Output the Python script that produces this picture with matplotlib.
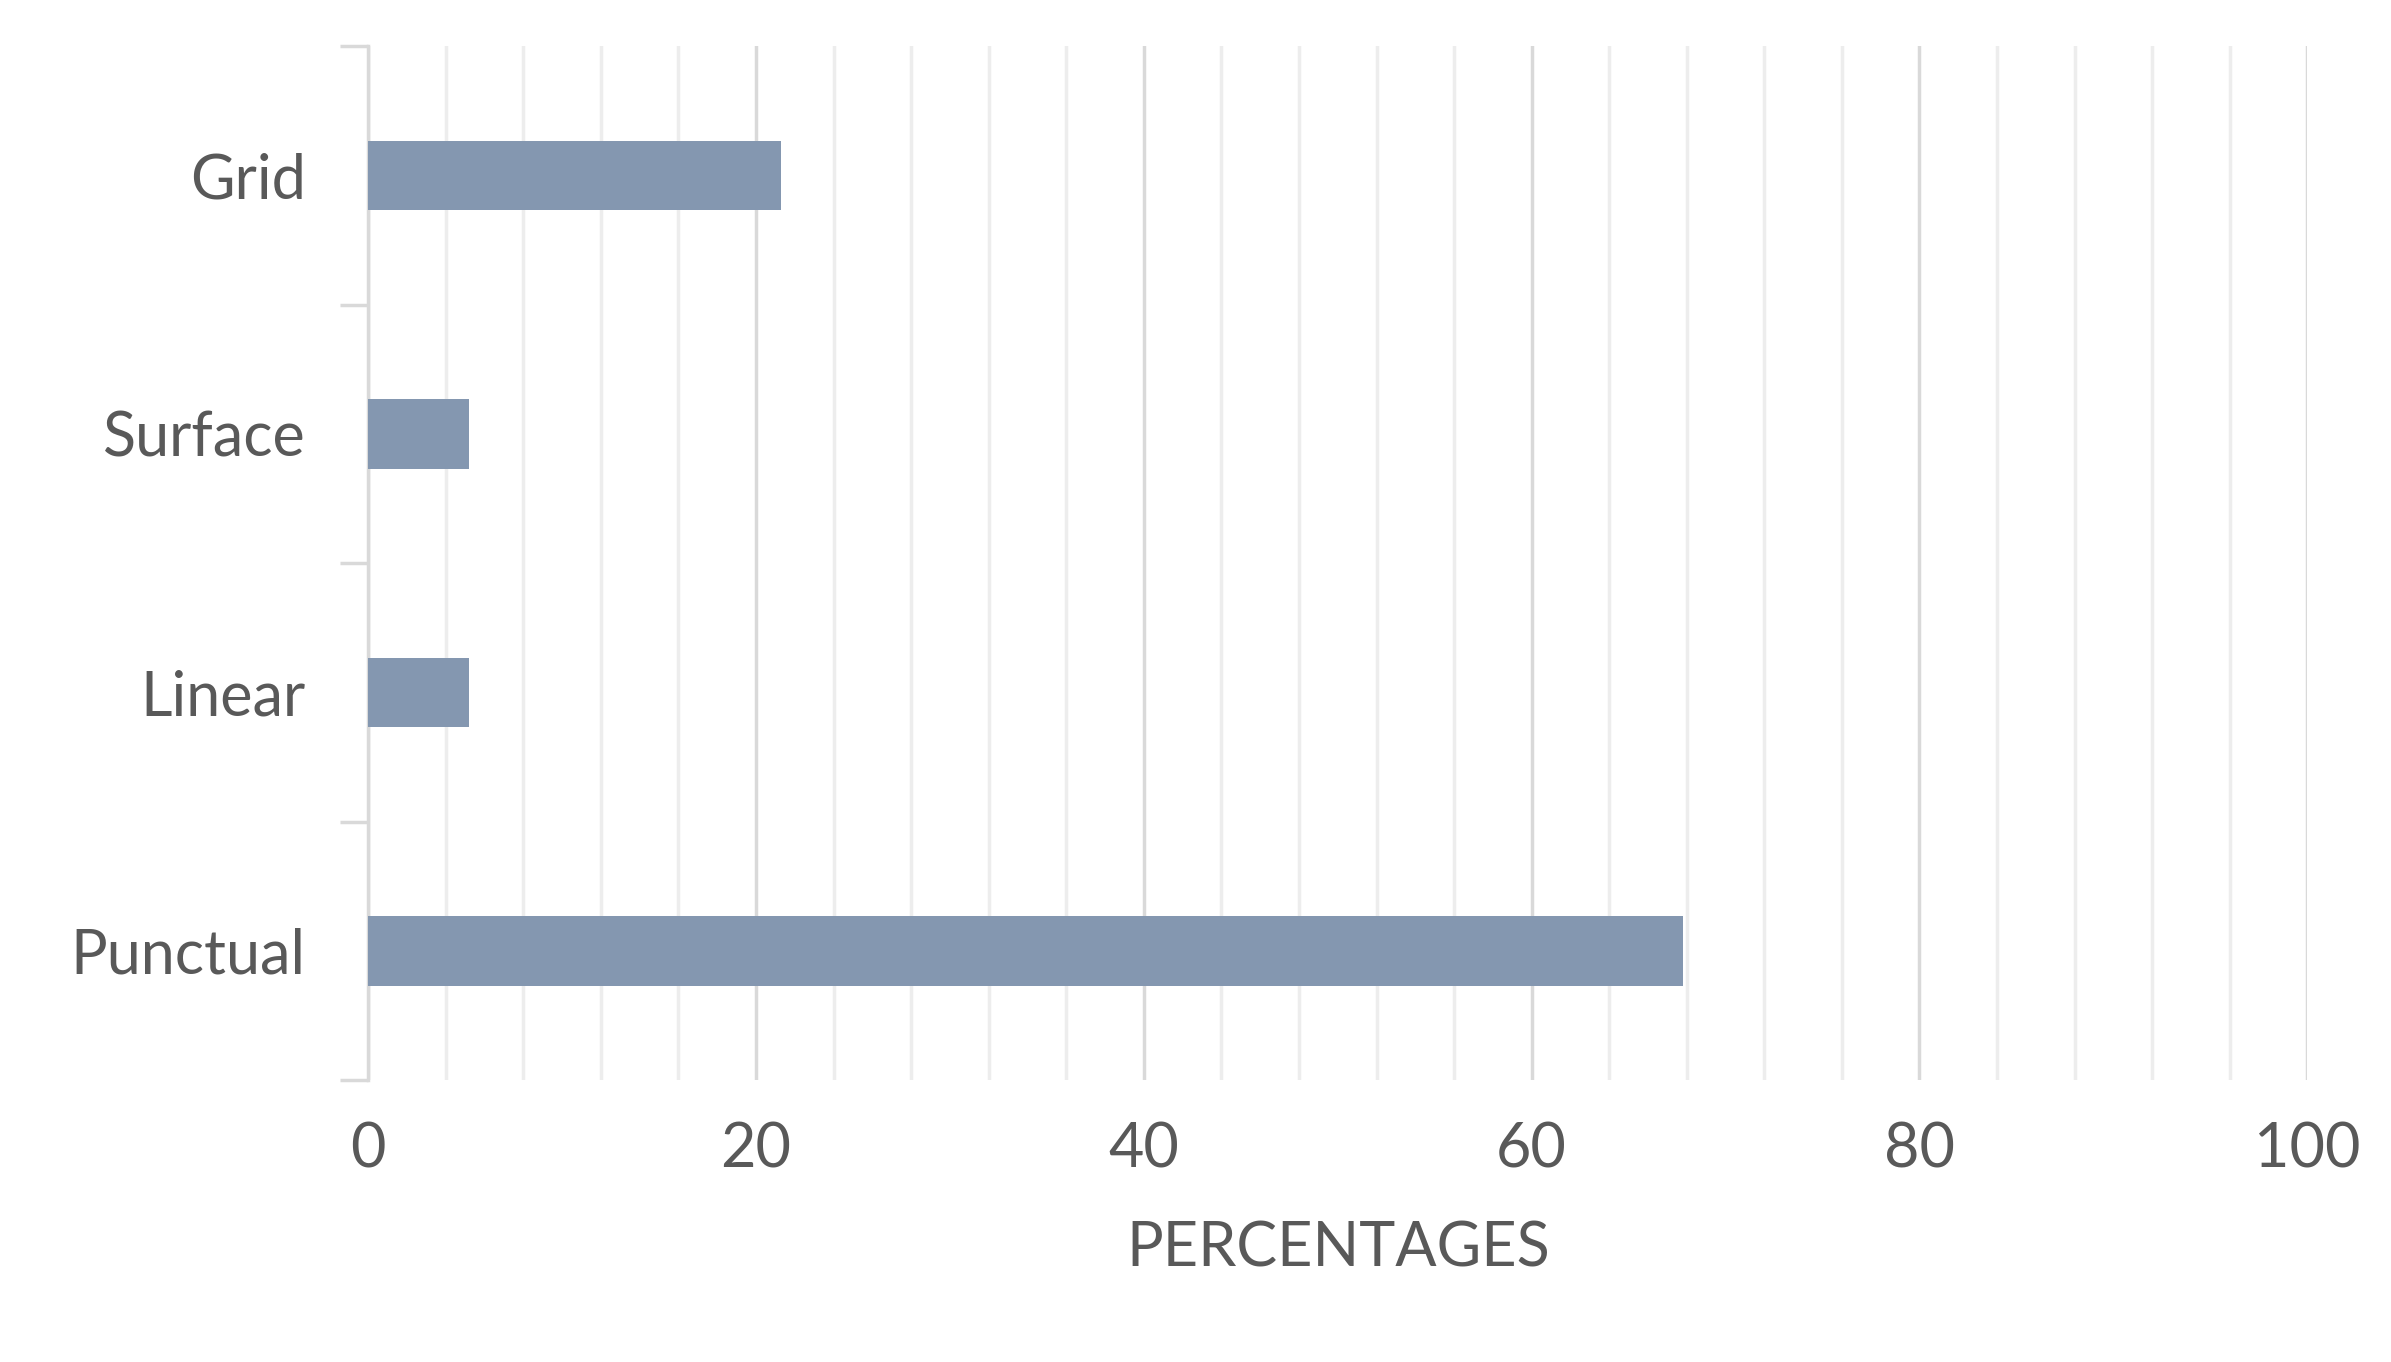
import matplotlib.pyplot as plt
import numpy as np

categories = ['Punctual', 'Linear', 'Surface', 'Grid']
values = [67.8, 5.2, 5.2, 21.3]

plt.rcParams['font.family'] = ['Lato', 'DejaVu Sans']
fig = plt.figure(figsize=(23.91, 13.62), dpi=100)
ax = fig.add_axes([0.154, 0.207, 0.811, 0.759])

y = np.arange(len(categories))
ax.barh(y, values, height=0.27, color='#8497b0', zorder=3)

ax.set_xlim(0, 100)
ax.set_ylim(-0.5, len(categories) - 0.5)

# major and minor vertical gridlines
ax.set_xticks(np.arange(0, 101, 20))
ax.set_xticks(np.arange(0, 101, 4), minor=True)
ax.grid(axis='x', which='major', color='#d9d9d9', linewidth=2.5, zorder=0)
ax.grid(axis='x', which='minor', color='#ededed', linewidth=2.5, zorder=0)
ax.tick_params(axis='x', which='both', length=0, labelsize=44, labelcolor='#595959', pad=30)

# y ticks at category boundaries, labels at centres
ax.set_yticks(np.arange(-0.5, len(categories), 1))
ax.set_yticklabels([])
ax.set_yticks(y, minor=True)
ax.set_yticklabels(categories, minor=True)
ax.tick_params(axis='y', which='major', length=20, width=2.5, color='#d9d9d9')
ax.tick_params(axis='y', which='minor', length=0, labelsize=44, labelcolor='#595959', pad=45)

for s in ['top', 'right', 'bottom']:
    ax.spines[s].set_visible(False)
ax.spines['left'].set_color('#d9d9d9')
ax.spines['left'].set_linewidth(2.5)

ax.set_xlabel('PERCENTAGES', fontsize=44, color='#595959', labelpad=30)

fig.savefig('out.png', dpi=100)
